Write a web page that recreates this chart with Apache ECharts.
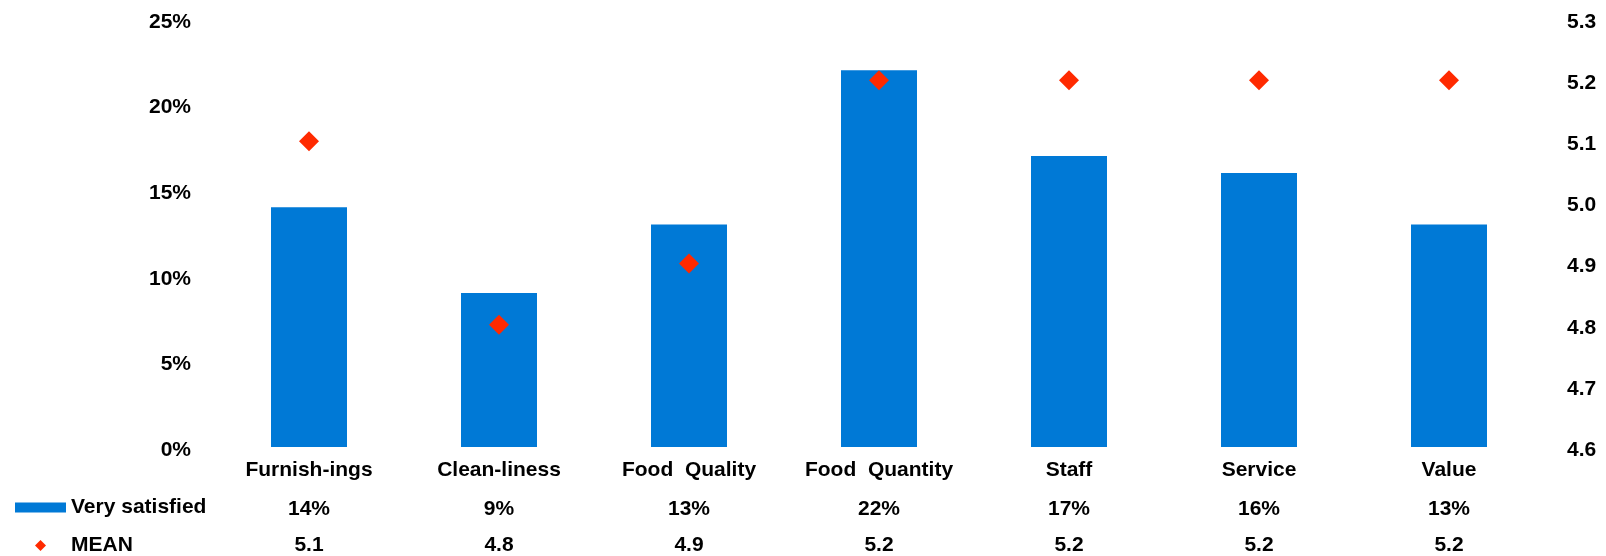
<!DOCTYPE html>
<html>
<head>
<meta charset="utf-8">
<script src="https://cdn.jsdelivr.net/npm/echarts@6/dist/echarts.min.js"></script>
<style>html,body{margin:0;padding:0;background:#fff;}#c{width:1606px;height:556px;}</style>
</head>
<body>
<div id="c"></div>
<script>
var categories = ['Furnish-ings', 'Clean-liness', 'Food  Quality', 'Food  Quantity', 'Staff', 'Service', 'Value'];
var verySatisfied = [14, 9, 13, 22, 17, 16, 13];
var meanValues = [5.1, 4.8, 4.9, 5.2, 5.2, 5.2, 5.2];
var leftTicks = { min: 0, max: 25, interval: 5 };
var rightTicks = { min: 4.6, max: 5.3, interval: 0.1 };

var BLUE = '#0079D6';
var RED = '#FF2A00';
var FONT = { fontFamily: 'Liberation Sans, Arial, sans-serif', fontWeight: 'bold', fontSize: 21, color: '#000' };

function tableAxis(offset, fmt) {
  return {
    type: 'category', data: categories, gridIndex: 0, position: 'bottom', offset: offset,
    axisLine: { show: false }, axisTick: { show: false }, splitLine: { show: false },
    axisLabel: Object.assign({ margin: 13, interval: 0, formatter: fmt }, FONT)
  };
}

var chart = echarts.init(document.getElementById('c'), null, { renderer: 'canvas' });
chart.setOption({
  animation: false,
  backgroundColor: '#fff',
  grid: { left: 214, right: 62, top: 19, bottom: 109, containLabel: false },
  legend: [
    {
      data: [{ name: 'Very satisfied', icon: 'rect' }],
      orient: 'vertical', left: 15, top: 497, padding: 0, itemWidth: 51, itemHeight: 10, itemGap: 5,
      selectedMode: false,
      textStyle: Object.assign({}, FONT)
    },
    {
      data: [{ name: 'MEAN', icon: 'diamond' }],
      orient: 'vertical', left: 35, top: 535, padding: 0, itemWidth: 11, itemHeight: 11, itemGap: 5,
      selectedMode: false,
      textStyle: Object.assign({ padding: [0, 0, 0, 20] }, FONT)
    }
  ],
  xAxis: [
    {
      type: 'category', data: categories, position: 'bottom',
      axisLine: { show: false }, axisTick: { show: false }, splitLine: { show: false },
      axisLabel: Object.assign({ margin: 13, interval: 0 }, FONT)
    },
    tableAxis(39, function (v, i) { return verySatisfied[i] + '%'; }),
    tableAxis(75, function (v, i) { return meanValues[i].toFixed(1); })
  ],
  yAxis: [
    {
      type: 'value', min: leftTicks.min, max: leftTicks.max, interval: leftTicks.interval, position: 'left',
      axisLine: { show: false }, axisTick: { show: false }, splitLine: { show: false },
      axisLabel: Object.assign({ margin: 23, formatter: '{value}%', verticalAlign: 'top', lineHeight: 6 }, FONT)
    },
    {
      type: 'value', min: rightTicks.min, max: rightTicks.max, interval: rightTicks.interval, position: 'right',
      axisLine: { show: false }, axisTick: { show: false }, splitLine: { show: false },
      axisLabel: Object.assign({ margin: 23, formatter: function (v) { return v.toFixed(1); }, verticalAlign: 'top', lineHeight: 6 }, FONT)
    }
  ],
  series: [
    {
      name: 'Very satisfied', type: 'bar', xAxisIndex: 0, yAxisIndex: 0,
      data: verySatisfied, barWidth: '40%',
      itemStyle: { color: BLUE }
    },
    {
      name: 'MEAN', type: 'scatter', xAxisIndex: 0, yAxisIndex: 1,
      data: meanValues, symbol: 'diamond', symbolSize: 20,
      itemStyle: { color: RED, opacity: 1 }, z: 5
    }
  ]
});
</script>
</body>
</html>
